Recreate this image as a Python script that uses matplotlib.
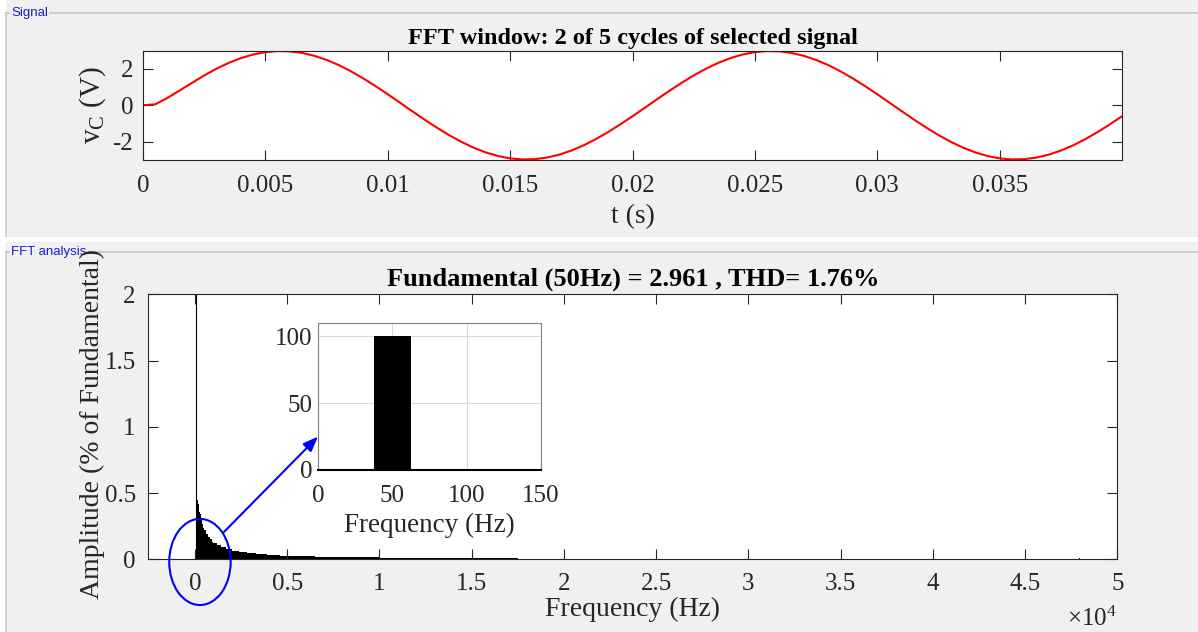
import numpy as np
import matplotlib
matplotlib.use('Agg')
import matplotlib.pyplot as plt
from matplotlib.patches import Rectangle, Ellipse
from matplotlib.ticker import FuncFormatter

plt.rcParams['font.family'] = ['Liberation Serif', 'DejaVu Serif']
plt.rcParams['mathtext.fontset'] = 'custom'
plt.rcParams['mathtext.rm'] = 'Liberation Serif'
plt.rcParams['mathtext.it'] = 'Liberation Serif:italic'
plt.rcParams['axes.unicode_minus'] = False

# selected signal: capacitor voltage, sampled every 0.5 ms
t_step = 0.0005
v_c = [0.0, 0.05, 0.40, 0.81, 1.22, 1.625, 1.993, 2.311, 2.572, 2.770,
       2.900, 2.958, 2.943, 2.856, 2.698, 2.474, 2.190, 1.851, 1.467, 1.046,
       0.600, 0.139, -0.325, -0.781, -1.218, -1.625, -1.993, -2.311, -2.572, -2.770,
       -2.900, -2.958, -2.943, -2.856, -2.698, -2.474, -2.190, -1.851, -1.467, -1.046,
       -0.600, -0.139, 0.325, 0.781, 1.218, 1.625, 1.993, 2.311, 2.572, 2.770,
       2.900, 2.958, 2.943, 2.856, 2.698, 2.474, 2.190, 1.851, 1.467, 1.046,
       0.600, 0.139, -0.325, -0.781, -1.218, -1.625, -1.993, -2.311, -2.572, -2.770,
       -2.900, -2.958, -2.943, -2.856, -2.698, -2.474, -2.190, -1.851, -1.467, -1.046,
       -0.600]
t = np.arange(len(v_c)) * t_step

# FFT result (% of fundamental)
bin_width = 25
fund_freq = 50
fund_amp = 100
fund_mag = 2.961
thd = 1.76
spec_freq = [75, 100, 125, 150, 175, 200, 250, 300, 350, 400, 450, 500, 600, 700,
             800, 900, 1000, 1200, 1400, 1700, 2000, 2400, 2800, 3300, 3900, 4600,
             5500, 6500, 7500, 8400, 10000, 12000, 14000, 15500, 16500, 17500,
             47900, 48000]
spec_amp = [0.46, 0.40, 0.45, 0.38, 0.42, 0.36, 0.34, 0.35, 0.31, 0.27, 0.24, 0.22,
            0.19, 0.17, 0.15, 0.13, 0.12, 0.105, 0.092, 0.078, 0.065, 0.055, 0.045,
            0.038, 0.032, 0.028, 0.024, 0.02, 0.018, 0.016, 0.01, 0.009, 0.008,
            0.008, 0.007, 0.0, 0.012, 0.0]

W, H = 1198, 632
fig = plt.figure(figsize=(W / 100, H / 100), dpi=100, facecolor='white')

def px_box(x0, y0, x1, y1):
    # pixel box (top-left origin) -> figure fraction rect
    return [x0 / W, 1 - y1 / H, (x1 - x0) / W, (y1 - y0) / H]

# grey panels behind the two plots
panel_col = '#f0f0f0'
frame_col = '#c8c8c8'
for (y0, y1, yline, label) in [(0, 236, 13, 'Signal'), (242, 632, 252, 'FFT analysis')]:
    fig.patches.append(Rectangle((6 / W, 1 - y1 / H), 1, (y1 - y0) / H,
                                 transform=fig.transFigure, color=panel_col, zorder=-10))
    fig.lines.append(plt.Line2D([6 / W, 1], [1 - yline / H] * 2, transform=fig.transFigure,
                                color=frame_col, lw=1.2, zorder=-9))
    fig.lines.append(plt.Line2D([6 / W] * 2, [1 - yline / H, 1 - y1 / H], transform=fig.transFigure,
                                color=frame_col, lw=1.2, zorder=-9))
    fig.text(11 / W, 1 - yline / H, label, family='Liberation Sans', fontsize=9.5,
             color='#1a1acc', va='center', ha='left',
             bbox=dict(facecolor=panel_col, edgecolor='none', pad=1.0), zorder=-8)

axis_col = '#262626'
tick_kw = dict(direction='in', length=7, width=0.8, color=axis_col, top=True, right=True,
               labelsize=18, labelcolor='#262626')

# signal window
ax1 = fig.add_axes(px_box(143, 51, 1122, 159.5))
ax1.plot(t, v_c, color='red', lw=1.5)
ax1.set_xlim(0, 0.04)
ax1.set_ylim(-fund_mag, fund_mag)
ax1.set_xticks(np.arange(0, 0.0351, 0.005))
ax1.set_xticklabels(['0', '0.005', '0.01', '0.015', '0.02', '0.025', '0.03', '0.035'])
ax1.set_yticks([-2, 0, 2])
ax1.tick_params(**tick_kw)
ax1.tick_params(axis='x', pad=11)
ax1.tick_params(axis='y', pad=7)
ax1.set_xlabel('t (s)', fontsize=20, color='#262626')
ax1.xaxis.set_label_coords(0.5, -0.41)
ax1.set_ylabel(r'v$_\mathrm{C}$ (V)', fontsize=21, color='#262626')
ax1.yaxis.set_label_coords(-0.036, 0.5)
ax1.set_title('FFT window: 2 of 5 cycles of selected signal', fontsize=17.5,
              fontweight='bold', pad=5)
for s in ax1.spines.values():
    s.set_color(axis_col)
    s.set_linewidth(0.8)

# spectrum
spec_w = list(np.diff(spec_freq)) + [bin_width]
ax2 = fig.add_axes(px_box(148.3, 294.3, 1117.3, 559.3))
ax2.bar(spec_freq, spec_amp, width=spec_w, align='edge', color='black', lw=0)
ax2.bar(fund_freq, fund_amp, width=bin_width, color='black', edgecolor='black', lw=0.8)
ax2.set_xlim(-2530, 50000)
ax2.set_ylim(0, 2)
ax2.set_xticks(np.arange(0, 50001, 5000))
ax2.xaxis.set_major_formatter(FuncFormatter(lambda v, p: f'{v / 1e4:g}'))
ax2.set_yticks([0, 0.5, 1, 1.5, 2])
ax2.set_yticklabels(['0', '0.5', '1', '1.5', '2'])
ax2.tick_params(**tick_kw)
ax2.tick_params(axis='x', pad=10)
ax2.tick_params(axis='y', pad=9)
ax2.set_xlabel('Frequency (Hz)', fontsize=20, color='#262626')
ax2.xaxis.set_label_coords(0.5, -0.14)
ax2.set_ylabel('Amplitude (% of Fundamental)', fontsize=20, color='#262626')
ax2.yaxis.set_label_coords(-0.045, 0.51)
ax2.set_title(f'Fundamental ({fund_freq}Hz) = {fund_mag} , THD= {thd}%', fontsize=19,
              fontweight='bold', pad=6)
for s in ax2.spines.values():
    s.set_color(axis_col)
    s.set_linewidth(0.8)
fig.text(1117 / W, 1 - 631 / H, r'$\times10^{4}$', fontsize=18, ha='right', va='bottom',
         color='#262626')

# zoom on the fundamental
ax3 = fig.add_axes(px_box(318, 323, 541, 470))
ax3.bar(spec_freq, spec_amp, width=spec_w, align='edge', color='black', lw=0)
ax3.bar(fund_freq, fund_amp, width=bin_width, color='black', lw=0)
ax3.set_xlim(0, 150)
ax3.set_ylim(0, 110)
ax3.set_xticks([0, 50, 100, 150])
ax3.set_yticks([0, 50, 100])
ax3.grid(True, color='#d9d9d9', lw=0.8)
ax3.set_axisbelow(True)
ax3.tick_params(direction='in', length=0, labelsize=18, labelcolor='#262626')
ax3.tick_params(axis='x', pad=11)
ax3.tick_params(axis='y', pad=4)
ax3.set_xlabel('Frequency (Hz)', fontsize=19.5, color='#262626')
ax3.xaxis.set_label_coords(0.5, -0.29)
for s in ax3.spines.values():
    s.set_color('#808080')
    s.set_linewidth(0.8)
ax3.spines['bottom'].set_color('black')
ax3.spines['bottom'].set_linewidth(1.5)

# circle round the low-frequency part and arrow to the zoom
ax2.add_patch(Ellipse((270, -0.02), 3330, 0.65, fill=False, edgecolor='blue', lw=1.5,
                      clip_on=False, zorder=5))
ax2.annotate('', xy=(0, 25), xycoords=ax3.transData, xytext=(1570, 0.206),
             textcoords='data',
             arrowprops=dict(arrowstyle='-|>,head_length=0.9,head_width=0.35',
                             color='blue', lw=1.5, shrinkA=0, shrinkB=0))

fig.savefig('out.png', dpi=100, facecolor=fig.get_facecolor())
